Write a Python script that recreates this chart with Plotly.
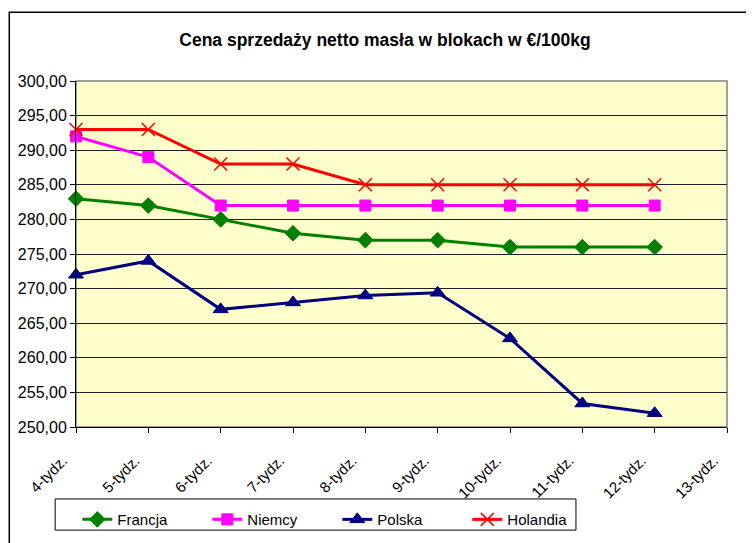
import plotly.graph_objects as go

# Data
weeks = ['4-tydz.', '5-tydz.', '6-tydz.', '7-tydz.', '8-tydz.', '9-tydz.',
         '10-tydz.', '11-tydz.', '12-tydz.', '13-tydz.']
francja = [283, 282, 280, 278, 277, 277, 276, 276, 276]
niemcy = [292, 289, 282, 282, 282, 282, 282, 282, 282]
polska = [272, 274, 267, 268, 269, 269.4, 262.8, 253.4, 252]
holandia = [293, 293, 288, 288, 285, 285, 285, 285, 285]

series = [
    ('Francja', francja, '#008000', 'diamond', 12, 1),
    ('Niemcy', niemcy, '#FF00FF', 'square', 11, 1),
    ('Polska', polska, '#000080', 'triangle-up', 13, 1),
    ('Holandia', holandia, '#FF0000', 'x-thin-open', 13, 1.5),
]

fig = go.Figure()
for name, vals, color, sym, size, lw in series:
    fig.add_trace(go.Scatter(
        x=weeks[:len(vals)], y=vals, mode='lines+markers', name=name,
        line=dict(color=color, width=3),
        marker=dict(symbol=sym, size=size, color=color,
                    line=dict(color=color, width=lw)),
        cliponaxis=False,
    ))

# page body has an 8px margin, so margins are shifted by 8px
fig.update_layout(
    width=754, height=543,
    paper_bgcolor='white',
    plot_bgcolor='#FFFFCC',
    separators=', ',
    font=dict(family='Liberation Sans, Arial', size=15, color='black'),
    title=dict(text='<b>Cena sprzedaży netto masła w blokach w €/100kg</b>',
               x=0.5, xanchor='center', y=0.941, yanchor='middle',
               font=dict(size=17.5)),
    margin=dict(l=68, r=35, t=73, b=124),
    legend=dict(orientation='h', x=0.002, xanchor='left', y=-0.22, yanchor='top',
                borderwidth=0, bgcolor='rgba(0,0,0,0)',
                font=dict(size=15), entrywidth=85, entrywidthmode='pixels',
                itemwidth=30),
    shapes=[
        # outer chart frame
        dict(type='rect', xref='paper', yref='paper', x0=-0.1025, x1=1.08,
             y0=-0.4, y1=1.199, line=dict(color='black', width=1.5), layer='above'),
        # plot area border
        dict(type='rect', xref='paper', yref='paper', x0=0, x1=1, y0=0, y1=1,
             line=dict(color='#808080', width=1.5), layer='below'),
        # legend box
        dict(type='rect', xref='paper', yref='paper', x0=-0.032, x1=0.768,
             y0=-0.298, y1=-0.208, line=dict(color='black', width=1), layer='below'),
    ],
)

fig.update_xaxes(
    type='category', categoryorder='array', categoryarray=weeks,
    range=[0, 9], tickangle=-45, showgrid=False, automargin=False,
    showline=True, linecolor='black', linewidth=1,
    ticks='outside', ticklen=5, tickcolor='black', tickfont=dict(size=15),
    ticklabelstandoff=13, ticklabelshift=-13,
)
fig.update_yaxes(
    range=[250, 300], dtick=5, tickformat='.2f', automargin=False,
    showgrid=True, gridcolor='#202020', gridwidth=1,
    showline=True, linecolor='black', linewidth=1,
    ticks='outside', ticklen=5, tickcolor='black', tickfont=dict(size=16),
    zeroline=False,
)

fig.write_html('out.html')
